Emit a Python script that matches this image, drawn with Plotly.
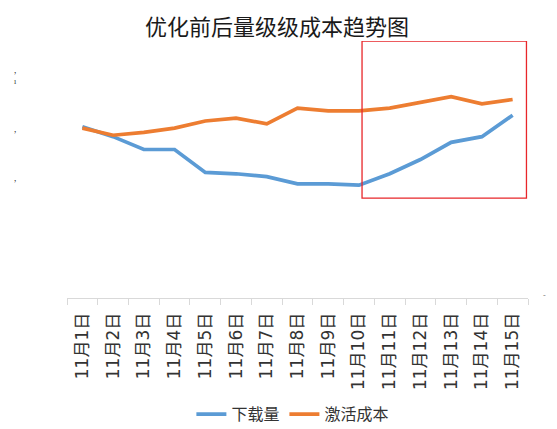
import plotly.graph_objects as go

# Data
days = ['11月%d日' % d for d in range(1, 16)]
downloads = [60, 56.5, 52, 52, 44, 43.5, 42.5, 40, 40, 39.5, 43.5, 48.5, 54.5, 56.5, 64]
act_cost = [59.5, 57, 58, 59.5, 62, 63, 61, 66.5, 65.5, 65.5, 66.5, 68.5, 70.5, 68, 69.5]

blue = '#5B9BD5'
orange = '#ED7D31'

fig = go.Figure()
fig.add_trace(go.Scatter(x=days, y=downloads, name='下载量', mode='lines',
                         line=dict(color=blue, width=3.7)))
fig.add_trace(go.Scatter(x=days, y=act_cost, name='激活成本', mode='lines',
                         line=dict(color=orange, width=3.7)))

# red highlight box around the post-optimisation days
fig.add_shape(type='rect', xref='x', yref='y', x0=9.1, x1=14.45, y0=35, y1=90,
              line=dict(color='#E8262A', width=1.3))

# cut-off axis label fragments on the edges
for yy, t in [(0.918, ','), (0.875, 'ı'), (0.689, ','), (0.467, ',')]:
    fig.add_annotation(x=-0.119, y=yy, xref='paper', yref='paper', text=t,
                       showarrow=False, font=dict(size=8, color='#333'))
fig.add_annotation(x=1.043, y=-0.016, xref='paper', yref='paper', text='-',
                   showarrow=False, font=dict(size=8, color='#666'))
fig.add_shape(type='line', xref='paper', yref='paper', x0=-0.141, x1=-0.141, y0=-0.6, y1=1.2,
              line=dict(color='#e6e6e6', width=1))

# page body keeps an 8px margin, so the figure is 8px smaller
fig.update_layout(
    width=549, height=421,
    margin=dict(l=59, r=29, t=33, b=131, autoexpand=False),
    paper_bgcolor='white', plot_bgcolor='white',
    font=dict(family='Noto Sans CJK SC', color='#333'),
    title=dict(text='优化前后量级级成本趋势图', x=0.49, xref='container', xanchor='center',
               y=0.955, yanchor='middle', font=dict(size=22, color='#1a1a1a')),
    showlegend=True,
    legend=dict(orientation='h', x=0.49, xanchor='center', xref='paper',
                y=-0.452, yanchor='middle', font=dict(size=16, color='#333'),
                itemwidth=30),
    xaxis=dict(showgrid=False, showline=True, linecolor='#d9d9d9', linewidth=1,
               ticks='outside', tickson='boundaries', ticklen=6, tickcolor='#d9d9d9',
               tickangle=-90, ticklabelstandoff=7,
               tickfont=dict(size=17, color='#333', family='DejaVu Sans, Noto Sans CJK SC'),
               range=[-0.5, 14.5], automargin=False),
    yaxis=dict(range=[0, 90], showgrid=False, zeroline=False, showticklabels=False,
               showline=False),
)

fig.write_html('out.html')
